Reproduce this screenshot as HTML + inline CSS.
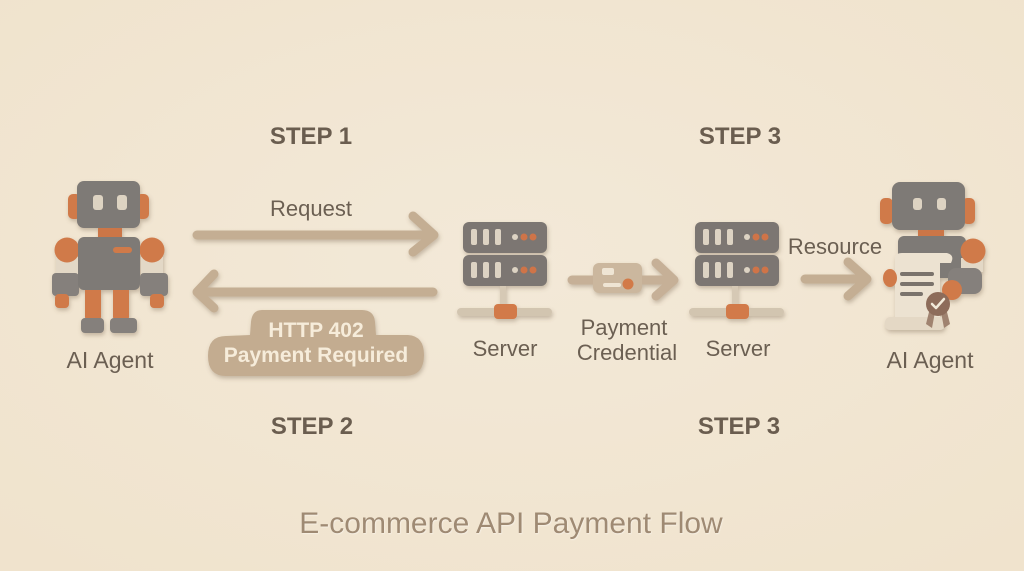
<!DOCTYPE html>
<html><head><meta charset="utf-8"><style>
html,body{margin:0;padding:0;background:#f1e6d3;}
svg{display:block;}
text{font-family:"Liberation Sans",Arial,sans-serif;}
</style></head><body>
<svg width="1024" height="571" viewBox="0 0 1024 571" xmlns="http://www.w3.org/2000/svg">
<defs>
<filter id="sh" x="-20%" y="-20%" width="140%" height="150%">
<feDropShadow dx="1" dy="2.5" stdDeviation="2" flood-color="#6e5a44" flood-opacity="0.35"/>
</filter>
<filter id="tsh" x="-5%" y="-20%" width="110%" height="150%">
<feDropShadow dx="0.6" dy="0.8" stdDeviation="0.4" flood-color="#ffffff" flood-opacity="0.5"/>
</filter>
<radialGradient id="bg" cx="50%" cy="45%" r="70%">
<stop offset="0" stop-color="#f3e9d8"/>
<stop offset="1" stop-color="#f0e3cd"/>
</radialGradient>
</defs>
<rect width="1024" height="571" fill="url(#bg)"/>

<!-- STEP labels -->
<g font-weight="bold" font-size="24" fill="#6a5d4f" text-anchor="middle">
<text x="311" y="144">STEP 1</text>
<text x="740" y="144">STEP 3</text>
<text x="312" y="434">STEP 2</text>
<text x="739" y="434">STEP 3</text>
</g>

<!-- Left robot -->
<g filter="url(#sh)">
<rect x="68" y="194" width="13" height="25" rx="5" fill="#d07a4a"/>
<rect x="136" y="194" width="13" height="25" rx="5" fill="#d07a4a"/>
<rect x="98" y="225" width="24" height="14" fill="#cc7646"/>
<rect x="56" y="257" width="22" height="19" fill="#e3d8c6"/>
<rect x="141" y="257" width="22" height="19" fill="#e3d8c6"/>
<circle cx="67" cy="250" r="12.5" fill="#d07a4a"/>
<circle cx="152" cy="250" r="12.5" fill="#d07a4a"/>
<rect x="52" y="273" width="27" height="23" rx="4" fill="#85807b"/>
<rect x="140" y="273" width="28" height="23" rx="4" fill="#85807b"/>
<rect x="55" y="294" width="14" height="14" rx="4" fill="#d07a4a"/>
<rect x="150" y="294" width="14" height="14" rx="4" fill="#d07a4a"/>
<rect x="85" y="286" width="16" height="34" rx="3" fill="#d07a4a"/>
<rect x="113" y="286" width="16" height="34" rx="3" fill="#d07a4a"/>
<rect x="81" y="318" width="23" height="15" rx="4" fill="#85807b"/>
<rect x="110" y="318" width="27" height="15" rx="4" fill="#85807b"/>
<rect x="78" y="237" width="62" height="53" rx="6" fill="#7e7a76"/>
<rect x="113" y="247" width="19" height="6" rx="3" fill="#d07a4a"/>
<rect x="77" y="181" width="63" height="47" rx="7" fill="#7e7a76"/>
<rect x="93" y="195" width="10" height="15" rx="3" fill="#ddd3c2"/>
<rect x="117" y="195" width="10" height="15" rx="3" fill="#ddd3c2"/>
</g>
<text x="110" y="368" font-size="23" fill="#6b5f52" text-anchor="middle">AI Agent</text>

<!-- Request arrow -->
<g filter="url(#sh)" stroke="#c4ae93" stroke-width="9" stroke-linecap="round" stroke-linejoin="round" fill="none">
<line x1="197" y1="235" x2="433" y2="235"/>
<polyline points="413,216 434,235 413,252"/>
<line x1="199" y1="292" x2="433" y2="292"/>
<polyline points="214,274 197,292 214,308"/>
</g>
<text x="311" y="216" font-size="22" fill="#6b5f52" text-anchor="middle">Request</text>

<!-- HTTP 402 bubble -->
<path filter="url(#sh)" fill="#c3ac90" d="M262,310 L362,310 Q374,310 375,322 L376,335 L408,335 Q424,336 424,355 Q424,376 405,376 L226,376 Q208,376 208,356 Q208,336 226,336 L250,335 L251,322 Q252,310 262,310 Z"/>
<g font-weight="bold" font-size="21" fill="#f6ecda" text-anchor="middle">
<text x="316" y="337">HTTP 402</text>
<text x="316" y="362">Payment Required</text>
</g>

<!-- Server 1 -->
<g filter="url(#sh)">
<rect x="500" y="284" width="6" height="24" fill="#d6c9b5"/>
<rect x="457" y="308" width="95" height="8" rx="4" fill="#d2c5b0"/>
<rect x="494" y="304" width="23" height="15" rx="4" fill="#d27a48"/>
<rect x="463" y="222" width="84" height="31" rx="6" fill="#7b7672"/>
<rect x="463" y="255" width="84" height="31" rx="6" fill="#7b7672"/>
</g>
<g fill="#ddd3c3">
<rect x="471" y="229" width="6" height="16" rx="2"/><rect x="483" y="229" width="6" height="16" rx="2"/><rect x="495" y="229" width="6" height="16" rx="2"/>
<rect x="471" y="262" width="6" height="16" rx="2"/><rect x="483" y="262" width="6" height="16" rx="2"/><rect x="495" y="262" width="6" height="16" rx="2"/>
<circle cx="515" cy="237" r="3"/><circle cx="515" cy="270" r="3"/>
</g>
<g fill="#cf7448">
<circle cx="524" cy="237" r="3.5"/><circle cx="533" cy="237" r="3.5"/>
<circle cx="524" cy="270" r="3.5"/><circle cx="533" cy="270" r="3.5"/>
</g>
<text x="505" y="356" font-size="22" fill="#6b5f52" text-anchor="middle">Server</text>

<!-- Server 2 -->
<g transform="translate(232,0)">
<g filter="url(#sh)">
<rect x="500" y="284" width="6" height="24" fill="#d6c9b5"/>
<rect x="457" y="308" width="95" height="8" rx="4" fill="#d2c5b0"/>
<rect x="494" y="304" width="23" height="15" rx="4" fill="#d27a48"/>
<rect x="463" y="222" width="84" height="31" rx="6" fill="#7b7672"/>
<rect x="463" y="255" width="84" height="31" rx="6" fill="#7b7672"/>
</g>
<g fill="#ddd3c3">
<rect x="471" y="229" width="6" height="16" rx="2"/><rect x="483" y="229" width="6" height="16" rx="2"/><rect x="495" y="229" width="6" height="16" rx="2"/>
<rect x="471" y="262" width="6" height="16" rx="2"/><rect x="483" y="262" width="6" height="16" rx="2"/><rect x="495" y="262" width="6" height="16" rx="2"/>
<circle cx="515" cy="237" r="3"/><circle cx="515" cy="270" r="3"/>
</g>
<g fill="#cf7448">
<circle cx="524" cy="237" r="3.5"/><circle cx="533" cy="237" r="3.5"/>
<circle cx="524" cy="270" r="3.5"/><circle cx="533" cy="270" r="3.5"/>
</g>
</g>
<text x="738" y="356" font-size="22" fill="#6b5f52" text-anchor="middle">Server</text>

<!-- Payment credential -->
<g filter="url(#sh)">
<g stroke="#c6b097" stroke-width="9" stroke-linecap="round" stroke-linejoin="round" fill="none">
<line x1="572" y1="280" x2="600" y2="280"/>
<line x1="638" y1="280" x2="672" y2="280"/>
<polyline points="656,263 674,280 656,296"/>
</g>
<rect x="593" y="263" width="49" height="30" rx="6" fill="#cbb79e"/>
</g>
<rect x="602" y="268" width="12" height="7" rx="2" fill="#efe5d4"/>
<rect x="603" y="283" width="18" height="4" rx="2" fill="#efe5d4"/>
<circle cx="628" cy="284" r="5.5" fill="#d27a48"/>
<g font-size="22" fill="#6b5f52" text-anchor="middle">
<text x="624" y="335">Payment</text>
<text x="627" y="360">Credential</text>
</g>

<!-- Resource arrow -->
<g filter="url(#sh)" stroke="#c4ae93" stroke-width="9" stroke-linecap="round" stroke-linejoin="round" fill="none">
<line x1="805" y1="279" x2="865" y2="279"/>
<polyline points="848,262 867,279 848,296"/>
</g>
<text x="835" y="254" font-size="22" fill="#6b5f52" text-anchor="middle">Resource</text>

<!-- Right robot -->
<g filter="url(#sh)">
<rect x="880" y="198" width="13" height="26" rx="5" fill="#d07a4a"/>
<rect x="962" y="198" width="13" height="26" rx="5" fill="#d07a4a"/>
<rect x="918" y="226" width="26" height="12" fill="#cc7646"/>
<rect x="898" y="236" width="68" height="42" rx="6" fill="#7e7a76"/>
<rect x="961" y="258" width="22" height="14" fill="#e3d8c6"/>
<circle cx="973" cy="251" r="12.5" fill="#d07a4a"/>
<rect x="948" y="268" width="34" height="26" rx="8" fill="#85807b"/>
<circle cx="952" cy="290" r="10" fill="#d07a4a"/>
<path d="M895,259 Q895,253 902,253 L947,253 Q955,255 951,263 L940,263 L940,320 L895,320 Z" fill="#ece2d1"/>
<ellipse cx="890" cy="278" rx="7" ry="9" fill="#d07a4a"/>
<rect x="885" y="317" width="60" height="13" rx="5" fill="#e4d8c5"/>
<rect x="892" y="182" width="73" height="48" rx="8" fill="#7e7a76"/>
<rect x="913" y="198" width="9" height="12" rx="3" fill="#ddd3c2"/>
<rect x="937" y="198" width="9" height="12" rx="3" fill="#ddd3c2"/>
</g>
<g fill="#7a736c">
<rect x="900" y="272" width="34" height="4" rx="2"/>
<rect x="900" y="282" width="34" height="4" rx="2"/>
<rect x="900" y="292" width="23" height="4" rx="2"/>
</g>
<polygon points="929,312 935,312 932,328 926,324" fill="#a08370"/>
<polygon points="941,312 947,312 950,324 944,328" fill="#a08370"/>
<circle cx="938" cy="304" r="12" fill="#8d6c5a"/>
<polyline points="932,304 936,308 944,299" fill="none" stroke="#f2ead9" stroke-width="2.5" stroke-linecap="round" stroke-linejoin="round"/>
<text x="930" y="368" font-size="23" fill="#6b5f52" text-anchor="middle">AI Agent</text>

<!-- Title -->
<text x="511" y="533" font-size="30" fill="#9f8a73" text-anchor="middle" filter="url(#tsh)">E-commerce API Payment Flow</text>
</svg>
</body></html>
